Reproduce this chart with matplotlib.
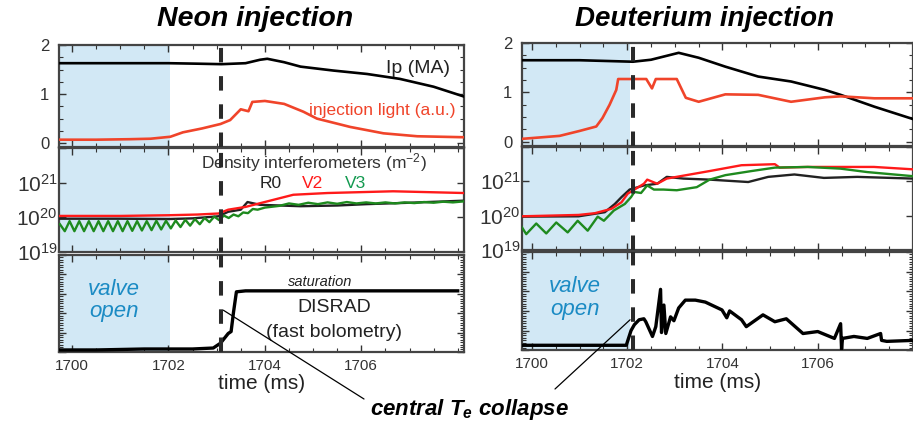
import matplotlib
matplotlib.use("Agg")
import matplotlib.pyplot as plt
from matplotlib.ticker import FixedLocator, FixedFormatter, MultipleLocator, NullLocator
import numpy as np

plt.rcParams["font.family"] = ["Liberation Sans", "DejaVu Sans"]
plt.rcParams["mathtext.default"] = "regular"

# ---------------- Neon injection ----------------
NE_IP_T = [1699.75, 1701.0, 1702.0, 1702.6, 1703.1, 1703.6, 1703.9, 1704.05, 1704.4,
           1704.74, 1705.42, 1706.12, 1706.8, 1707.5, 1708.13]
NE_IP = [1.63, 1.63, 1.63, 1.62, 1.61, 1.63, 1.70, 1.72, 1.65, 1.56, 1.48, 1.41, 1.31,
         1.15, 0.95]

NE_LIGHT_T = [1699.75, 1700.5, 1701.2, 1701.63, 1702.04, 1702.3, 1702.7, 1703.08, 1703.28,
              1703.5, 1703.66, 1703.74, 1704.0, 1704.4, 1704.8, 1705.08, 1705.77, 1706.46,
              1707.16, 1708.13]
NE_LIGHT = [0.07, 0.07, 0.08, 0.09, 0.13, 0.22, 0.30, 0.39, 0.47, 0.69, 0.65, 0.84, 0.86,
            0.80, 0.64, 0.50, 0.33, 0.20, 0.14, 0.12]

# density, log10(m^-2)
NE_R0_T = [1699.75, 1701.0, 1702.0, 1702.5, 1703.04, 1703.24, 1703.5, 1703.64, 1703.9,
           1704.74, 1705.5, 1706.12, 1707.0, 1708.13]
NE_R0 = [19.96, 19.96, 19.95, 19.97, 20.03, 20.16, 20.22, 20.44, 20.36, 20.32, 20.34,
         20.38, 20.42, 20.48]
NE_V2_T = [1699.75, 1701.0, 1702.0, 1702.6, 1703.04, 1703.24, 1703.6, 1703.91, 1704.59,
           1705.3, 1706.66, 1708.13]
NE_V2 = [20.04, 20.04, 20.06, 20.08, 20.11, 20.22, 20.30, 20.41, 20.65, 20.70, 20.75, 20.70]
NE_V3_T = [1699.75, 1699.85, 1699.95, 1700.05, 1700.15, 1700.25, 1700.35, 1700.45, 1700.55,
           1700.65, 1700.75, 1700.85, 1700.95, 1701.05, 1701.15, 1701.25, 1701.35, 1701.45,
           1701.55, 1701.65, 1701.75, 1701.85, 1701.95, 1702.05, 1702.15, 1702.25, 1702.35,
           1702.45, 1702.55, 1702.65, 1702.75, 1702.85, 1702.95, 1703.05, 1703.15, 1703.25,
           1703.35, 1703.45, 1703.55, 1703.65, 1703.75, 1703.85, 1704.0, 1704.3, 1704.5,
           1704.7, 1704.9, 1705.1, 1705.3, 1705.5, 1705.7, 1705.9, 1706.1, 1706.3, 1706.5,
           1706.7, 1706.9, 1707.1, 1707.3, 1707.5, 1707.7, 1707.9, 1708.13]
NE_V3 = [19.80, 19.60, 19.89, 19.60, 19.89, 19.60, 19.89, 19.60, 19.89, 19.60, 19.89,
         19.60, 19.89, 19.60, 19.89, 19.61, 19.89, 19.62, 19.89, 19.63, 19.90, 19.65,
         19.90, 19.68, 19.91, 19.72, 19.93, 19.76, 19.95, 19.80, 19.98, 19.86, 20.02,
         19.92, 20.05, 19.98, 20.08, 20.03, 20.14, 20.12, 20.24, 20.22, 20.28, 20.33,
         20.40, 20.36, 20.42, 20.38, 20.43, 20.39, 20.44, 20.40, 20.43, 20.40, 20.43,
         20.40, 20.43, 20.41, 20.44, 20.42, 20.45, 20.43, 20.46]

NE_RAD_T = [1699.75, 1700.5, 1701.5, 1702.5, 1702.93, 1703.08, 1703.24, 1703.3, 1703.35,
            1703.41, 1703.6, 1704.5, 1705.5, 1706.5, 1707.5, 1708.0]
NE_RAD = [0.02, 0.02, 0.03, 0.03, 0.04, 0.09, 0.19, 0.21, 0.41, 0.62, 0.63, 0.63, 0.63,
          0.63, 0.63, 0.63]

# ---------------- Deuterium injection ----------------
D_IP_T = [1699.79, 1701.0, 1702.12, 1702.5, 1703.08, 1703.5, 1704.06, 1704.75, 1705.44,
          1706.15, 1706.48, 1707.19, 1708.0]
D_IP = [1.65, 1.65, 1.62, 1.66, 1.80, 1.70, 1.52, 1.32, 1.22, 1.05, 0.95, 0.71, 0.46]

D_LIGHT_T = [1699.79, 1700.58, 1701.0, 1701.35, 1701.48, 1701.63, 1701.77, 1701.81, 1702.4,
             1702.52, 1702.6, 1703.04, 1703.23, 1703.5, 1704.06, 1704.75, 1705.44, 1706.15,
             1706.48, 1707.19, 1708.0]
D_LIGHT = [0.06, 0.12, 0.22, 0.31, 0.48, 0.75, 1.05, 1.27, 1.27, 1.08, 1.27, 1.27, 0.89,
           0.81, 0.96, 0.95, 0.81, 0.90, 0.92, 0.88, 0.88]

D_R0_T = [1699.78, 1700.98, 1701.53, 1701.74, 1701.88, 1702.05, 1702.35, 1702.63, 1702.83,
          1703.18, 1703.73, 1704.54, 1704.96, 1705.51, 1706.13, 1706.83, 1708.0]
D_R0 = [19.97, 19.98, 20.10, 20.34, 20.54, 20.76, 20.88, 20.93, 21.13, 21.08, 21.05, 20.98,
        21.13, 21.20, 21.10, 21.13, 21.08]
D_V2_T = [1699.78, 1700.98, 1701.32, 1701.67, 1701.88, 1702.01, 1702.35, 1702.42, 1702.63,
          1702.83, 1703.73, 1704.4, 1705.1, 1705.2, 1705.79, 1706.48, 1707.18, 1708.0]
D_V2 = [19.98, 20.02, 20.07, 20.20, 20.39, 20.64, 20.93, 21.05, 20.93, 21.08, 21.30, 21.47,
        21.50, 21.40, 21.42, 21.42, 21.42, 21.35]
D_V3_T = [1699.78, 1699.88, 1700.09, 1700.30, 1700.51, 1700.75, 1700.96, 1701.17, 1701.38,
          1701.51, 1701.72, 1701.95, 1702.08, 1702.15, 1702.29, 1702.42, 1702.56, 1702.76,
          1703.04, 1703.46, 1703.73, 1704.06, 1704.61, 1705.1, 1705.79, 1706.48, 1707.04,
          1708.0]
D_V3 = [19.68, 19.46, 19.77, 19.48, 19.80, 19.51, 19.85, 19.56, 19.97, 19.85, 20.15, 20.34,
        20.54, 20.69, 20.66, 20.88, 20.76, 20.76, 20.74, 20.83, 21.05, 21.18, 21.30, 21.40,
        21.42, 21.37, 21.27, 21.15]

D_RAD_T = [1699.79, 1700.5, 1701.2, 1701.98, 1702.08, 1702.15, 1702.25, 1702.35, 1702.39,
           1702.53, 1702.6, 1702.7, 1702.72, 1702.77, 1702.81, 1702.91, 1702.98, 1703.08,
           1703.22, 1703.43, 1703.64, 1703.99, 1704.09, 1704.15, 1704.4, 1704.5, 1704.85,
           1705.1, 1705.34, 1705.69, 1706.0, 1706.35, 1706.48, 1706.5, 1706.52, 1706.76,
           1707.04, 1707.32, 1707.34, 1707.45, 1708.0]
D_RAD = [0.05, 0.05, 0.05, 0.05, 0.20, 0.26, 0.31, 0.32, 0.29, 0.14, 0.24, 0.62, 0.18,
         0.46, 0.17, 0.34, 0.30, 0.43, 0.51, 0.51, 0.49, 0.41, 0.33, 0.40, 0.31, 0.24, 0.36,
         0.29, 0.32, 0.17, 0.19, 0.12, 0.27, 0.01, 0.12, 0.14, 0.12, 0.17, 0.10, 0.09, 0.10]

VALVE_END = {"neon": 1702.04, "deut": 1702.06}
TE_COLLAPSE = {"neon": 1703.08, "deut": 1702.12}
XLIM = {"neon": (1699.73, 1708.13), "deut": (1699.79, 1708.0)}
XTICKS = [1700, 1702, 1704, 1706]

SHADE = "#d2e8f5"
BLUE_TXT = "#1b8bc4"
LIGHT_RED = "#f0442a"
DENS_RED = "#ff1a1a"
DENS_GREEN = "#1e8a1e"


def style_axis(ax, xlim):
    ax.set_xlim(*xlim)
    ax.xaxis.set_major_locator(FixedLocator(XTICKS))
    ax.xaxis.set_minor_locator(MultipleLocator(0.5))
    ax.tick_params(which="both", direction="in", top=True, right=True, colors="#333333")
    ax.tick_params(which="major", length=5, width=1)
    ax.tick_params(which="minor", length=3, width=0.8)
    for sp in ax.spines.values():
        sp.set_color("#444444")
        sp.set_linewidth(1.6)


def draw_column(fig, key, left, width, rows, data):
    ip_t, ip, li_t, li, r0_t, r0, v2_t, v2, v3_t, v3, rad_t, rad = data
    xlim = XLIM[key]
    axes = []
    for bottom, height in rows:
        axes.append(fig.add_axes([left, bottom, width, height]))
    ax_top, ax_mid, ax_bot = axes

    for ax in axes:
        ax.axvspan(xlim[0], VALVE_END[key], color=SHADE, lw=0, zorder=0)
        ax.axvline(TE_COLLAPSE[key], color="#2a2a2a", lw=2.9, ls=(0, (3.6, 3.4)), zorder=5)
        style_axis(ax, xlim)

    # top: plasma current and injection light
    ax_top.plot(ip_t, ip, color="black", lw=1.9, zorder=3)
    ax_top.plot(li_t, li, color=LIGHT_RED, lw=1.9, zorder=3)
    ax_top.set_ylim(-0.08, 2.0)
    ax_top.yaxis.set_major_locator(FixedLocator([0, 1, 2]))
    ax_top.yaxis.set_minor_locator(MultipleLocator(0.25))
    ax_top.tick_params(axis="y", labelsize=12, pad=7)
    ax_top.tick_params(axis="x", labelbottom=False)

    # middle: line-integrated densities
    ax_mid.set_yscale("log")
    ax_mid.plot(r0_t, 10 ** np.array(r0), color="#222222", lw=1.7, zorder=3)
    ax_mid.plot(v2_t, 10 ** np.array(v2), color=DENS_RED, lw=1.7, zorder=3)
    ax_mid.plot(v3_t, 10 ** np.array(v3), color=DENS_GREEN, lw=1.7, zorder=3)
    ax_mid.set_ylim(1e19, 1e22)
    ax_mid.yaxis.set_major_locator(FixedLocator([1e19, 1e20, 1e21, 1e22]))
    ax_mid.yaxis.set_major_formatter(
        FixedFormatter([r"$10^{19}$", r"$10^{20}$", r"$10^{21}$", ""]))
    ax_mid.yaxis.set_minor_locator(NullLocator())
    ax_mid.tick_params(axis="y", labelsize=15, pad=1)
    ax_mid.tick_params(axis="x", labelbottom=False)

    # bottom: fast bolometry
    ax_bot.plot(rad_t, rad, color="black", lw=2.4, zorder=3)
    ax_bot.set_ylim(0, 1)
    ax_bot.yaxis.set_major_locator(MultipleLocator(0.2))
    ax_bot.yaxis.set_minor_locator(MultipleLocator(0.025))
    ax_bot.tick_params(axis="y", labelleft=False)
    ax_bot.tick_params(axis="x", labelsize=11, pad=5)
    ax_bot.set_xlabel("time (ms)", fontsize=15, labelpad=1, color="#222222")
    ax_bot.text(0.135, 0.53, "valve\nopen", transform=ax_bot.transAxes, ha="center",
                va="center", fontsize=16, style="italic", color=BLUE_TXT, linespacing=1.1)
    return axes


def main():
    fig = plt.figure(figsize=(9.13, 4.25), dpi=100)

    neon = (NE_IP_T, NE_IP, NE_LIGHT_T, NE_LIGHT, NE_R0_T, NE_R0, NE_V2_T, NE_V2,
            NE_V3_T, NE_V3, NE_RAD_T, NE_RAD)
    deut = (D_IP_T, D_IP, D_LIGHT_T, D_LIGHT, D_R0_T, D_R0, D_V2_T, D_V2,
            D_V3_T, D_V3, D_RAD_T, D_RAD)

    left_rows = [(0.654, 0.240), (0.407, 0.245), (0.172, 0.228)]
    right_rows = [(0.657, 0.242), (0.412, 0.242), (0.176, 0.231)]
    la = draw_column(fig, "neon", 0.0646, 0.4436, left_rows, neon)
    ra = draw_column(fig, "deut", 0.5717, 0.4283, right_rows, deut)

    fig.text(0.279, 0.956, "Neon injection", ha="center", va="center", fontsize=20.5,
             weight="bold", style="italic")
    fig.text(0.772, 0.956, "Deuterium injection", ha="center", va="center", fontsize=20,
             weight="bold", style="italic")

    # panel annotations (left column)
    la[0].text(0.965, 0.77, "Ip (MA)", transform=la[0].transAxes, ha="right", va="center",
               fontsize=14, color="#222222")
    la[0].text(0.978, 0.36, "injection light (a.u.)", transform=la[0].transAxes,
               ha="right", va="center", fontsize=12.5, color=LIGHT_RED)
    la[1].text(0.63, 0.86, "Density interferometers (m$^{-2}$)", transform=la[1].transAxes,
               ha="center", va="center", fontsize=12.5, color="#333333")
    la[1].text(0.523, 0.66, "R0", transform=la[1].transAxes, ha="center", va="center",
               fontsize=12.5, color="#222222")
    la[1].text(0.627, 0.66, "V2", transform=la[1].transAxes, ha="center", va="center",
               fontsize=12.5, color=DENS_RED)
    la[1].text(0.733, 0.66, "V3", transform=la[1].transAxes, ha="center", va="center",
               fontsize=12.5, color="#139a50")
    la[2].text(0.644, 0.72, "saturation", transform=la[2].transAxes, ha="center",
               va="center", fontsize=10.5, style="italic", color="#222222")
    la[2].text(0.679, 0.455, "DISRAD", transform=la[2].transAxes, ha="center", va="center",
               fontsize=14, color="#222222")
    la[2].text(0.679, 0.2, "(fast bolometry)", transform=la[2].transAxes, ha="center",
               va="center", fontsize=14, color="#222222")

    # central Te collapse label with pointers
    fig.text(0.514, 1 - 409 / 425, r"central $T_e$ collapse", ha="center", va="center",
             fontsize=16, weight="bold", style="italic")
    la[2].annotate("", xy=(1703.14, 0.43), xycoords="data",
                   xytext=(364 / 913, 1 - 399 / 425), textcoords="figure fraction",
                   arrowprops=dict(arrowstyle="-", color="black", lw=0.9,
                                   shrinkA=0, shrinkB=0), annotation_clip=False)
    ra[2].annotate("", xy=(1702.06, 0.31), xycoords="data",
                   xytext=(555 / 913, 1 - 389 / 425), textcoords="figure fraction",
                   arrowprops=dict(arrowstyle="-", color="black", lw=0.9,
                                   shrinkA=0, shrinkB=0), annotation_clip=False)

    fig.savefig("out.png", dpi=100)
    plt.close(fig)


if __name__ == "__main__":
    main()
